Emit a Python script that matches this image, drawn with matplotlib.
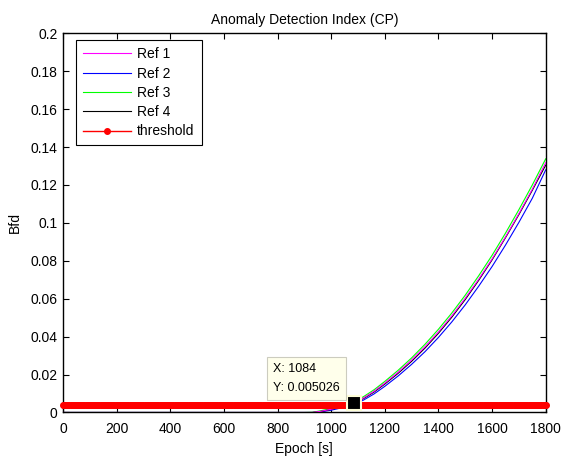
import numpy as np
import matplotlib
matplotlib.use("Agg")
import matplotlib.pyplot as plt

plt.rcParams['font.family'] = ['Liberation Sans', 'DejaVu Sans']

# ---- data ----
epoch = [0, 300, 600, 900, 930, 960, 1000, 1040, 1084, 1120, 1160, 1200, 1250, 1300,
         1350, 1400, 1450, 1500, 1550, 1600, 1650, 1700, 1750, 1800]
ref1 = [0, 0, 0, 0, 0, 0.0006, 0.0017, 0.0032, 0.0052, 0.0076, 0.0112, 0.0155, 0.0213, 0.0277,
        0.0347, 0.0425, 0.0510, 0.0603, 0.0703, 0.0810, 0.0926, 0.1049, 0.1178, 0.1318]
ref2 = [0, 0, 0, 0, 0, 0.0003, 0.0012, 0.0025, 0.0043, 0.0065, 0.0098, 0.0138, 0.0193, 0.0254,
        0.0321, 0.0396, 0.0478, 0.0568, 0.0666, 0.0770, 0.0883, 0.1003, 0.1130, 0.1280]
ref3 = [0, 0, 0, 0, 0.0001, 0.0009, 0.0021, 0.0037, 0.0058, 0.0083, 0.0120, 0.0164, 0.0223, 0.0288,
        0.0360, 0.0439, 0.0525, 0.0619, 0.0721, 0.0829, 0.0946, 0.1070, 0.1200, 0.1338]
ref4 = [0, 0, 0, 0, 0, 0.0005, 0.0016, 0.0031, 0.0050, 0.0073, 0.0108, 0.0150, 0.0207, 0.0270,
        0.0340, 0.0418, 0.0503, 0.0596, 0.0697, 0.0805, 0.0922, 0.1044, 0.1172, 0.1305]
threshold = 0.004
tip_x, tip_y = 1084, 0.005026

xticks = [0, 200, 400, 600, 800, 1000, 1200, 1400, 1600, 1800]
yticks = [0, 0.02, 0.04, 0.06, 0.08, 0.1, 0.12, 0.14, 0.16, 0.18, 0.2]
ytick_labels = ['0', '0.02', '0.04', '0.06', '0.08', '0.1', '0.12', '0.14', '0.16', '0.18', '0.2']

# ---- figure ----
fig = plt.figure(figsize=(5.64, 4.57), dpi=100)
ax = fig.add_axes([0.1117, 0.0974, 0.8559, 0.8297])

ax.plot(epoch, ref1, color=(1, 0, 1), lw=0.8, label='Ref 1', zorder=3)
ax.plot(epoch, ref2, color=(0, 0, 1), lw=0.8, label='Ref 2', zorder=2)
ax.plot(epoch, ref3, color=(0, 1, 0), lw=0.8, label='Ref 3', zorder=2)
ax.plot(epoch, ref4, color=(0, 0, 0), lw=0.8, label='Ref 4', zorder=2.5)

thr_x = np.arange(0, 1801, 4)
ax.plot(thr_x, np.full(len(thr_x), threshold), color='red', lw=1.0, marker='.',
        markersize=8, label='threshold', zorder=4, clip_on=False)

# data tip
ax.plot([tip_x], [tip_y], marker='s', markersize=10, color='black',
        markeredgecolor=(1, 1, 0.85), markeredgewidth=1.5, zorder=6, clip_on=False)
ax.annotate('X: 1084\nY: 0.005026', xy=(tip_x, tip_y), xytext=(-58, 6.5),
            textcoords='offset points', ha='left', va='bottom', fontsize=9,
            linespacing=1.75,
            bbox=dict(boxstyle='square,pad=0.5', fc=(1, 1, 0.92), ec=(0.8, 0.8, 0.75), lw=0.8),
            zorder=7)

ax.set_xlim(0, 1800)
ax.set_ylim(0, 0.2)
ax.set_xticks(xticks)
ax.set_yticks(yticks)
ax.set_yticklabels(ytick_labels)
ax.tick_params(axis='both', direction='in', length=4, width=0.8, top=True, right=True, labelsize=10)
ax.tick_params(axis='x', pad=7)
ax.tick_params(axis='y', pad=4)
for s in ax.spines.values():
    s.set_linewidth(1.0)

ax.set_title('Anomaly Detection Index (CP)', fontsize=10, pad=7)
ax.set_xlabel('Epoch [s]', fontsize=10, labelpad=4)
ax.set_ylabel('Bfd', fontsize=10, labelpad=6)

leg = ax.legend(loc='upper left', bbox_to_anchor=(0.0263, 0.9815), fontsize=10, numpoints=1,
                fancybox=False, framealpha=1, edgecolor='black', handlelength=3.5,
                borderpad=0.5, labelspacing=0.38, handletextpad=0.43, borderaxespad=0)
leg.get_frame().set_linewidth(0.8)

fig.savefig('out.png', dpi=100)
